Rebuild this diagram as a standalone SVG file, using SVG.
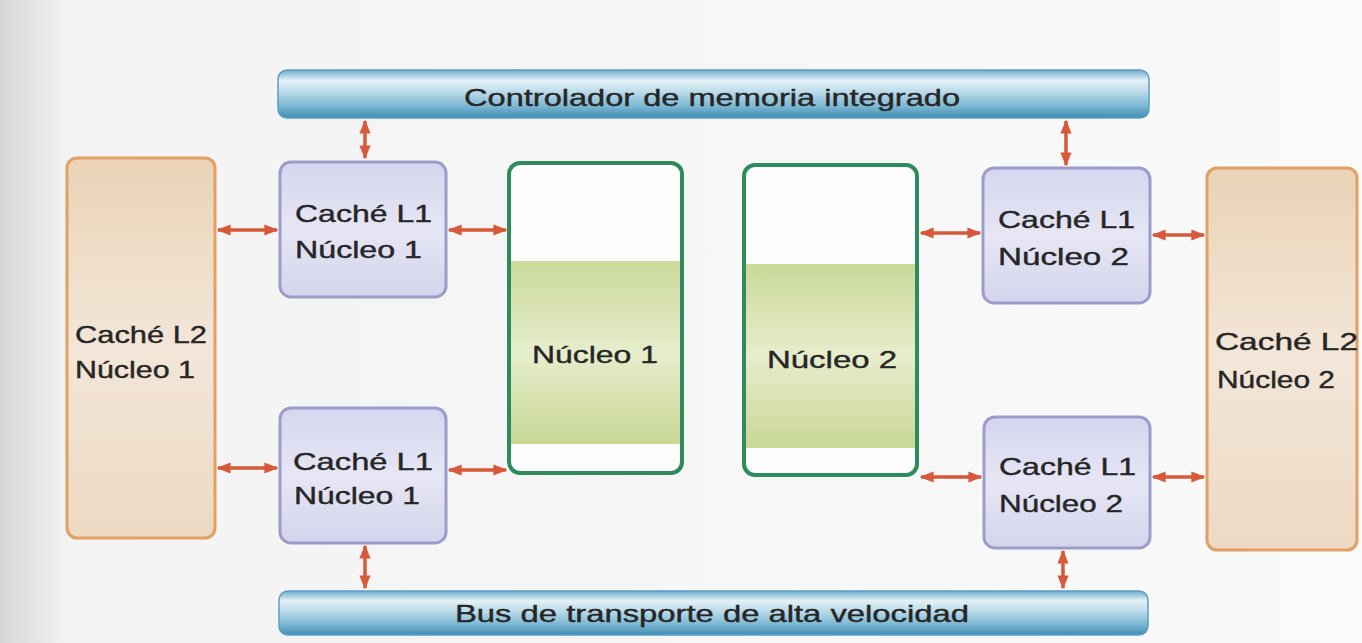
<svg xmlns="http://www.w3.org/2000/svg" width="1362" height="643" viewBox="0 0 1362 643">
<defs>
<linearGradient id="bg" x1="0" y1="0" x2="1" y2="0">
<stop offset="0" stop-color="#d6d6d6"/><stop offset="0.05" stop-color="#f3f3f3"/><stop offset="1" stop-color="#fafafa"/>
</linearGradient>
<linearGradient id="pipe" x1="0" y1="0" x2="0" y2="1">
<stop offset="0" stop-color="#6aaccb"/><stop offset="0.22" stop-color="#e4f1f6"/><stop offset="0.45" stop-color="#bcdcea"/><stop offset="0.75" stop-color="#7db8d3"/><stop offset="1" stop-color="#3f8db5"/>
</linearGradient>
<linearGradient id="l1" x1="0" y1="0" x2="0" y2="1">
<stop offset="0" stop-color="#d5d5ee"/><stop offset="0.5" stop-color="#e6e6f5"/><stop offset="1" stop-color="#d4d4ec"/>
</linearGradient>
<linearGradient id="l2" x1="0" y1="0" x2="0" y2="1">
<stop offset="0" stop-color="#ead3b6"/><stop offset="0.5" stop-color="#f3e6d8"/><stop offset="1" stop-color="#edd9c3"/>
</linearGradient>
<linearGradient id="band" x1="0" y1="0" x2="0" y2="1">
<stop offset="0" stop-color="#cbd99a"/><stop offset="0.5" stop-color="#e6edcc"/><stop offset="1" stop-color="#c9d796"/>
</linearGradient>
<marker id="ah" viewBox="0 0 10 10" refX="9" refY="5" markerWidth="4" markerHeight="4" orient="auto-start-reverse">
<path d="M0,1 L10,5 L0,9 z" fill="#d65a3a"/>
</marker>
<style>
.t{font-family:"Liberation Sans",Arial,sans-serif;font-size:24px;fill:#262626;stroke:#262626;stroke-width:0.4}
.pipe{fill:url(#pipe);stroke:#5a9fc2;stroke-width:1.5}
.l1{fill:url(#l1);stroke:#9c9cc9;stroke-width:3}
.l2{fill:url(#l2);stroke:#e2a062;stroke-width:3}
.core{fill:#fdfdfd;stroke:#2f8a5c;stroke-width:4}
.band{fill:url(#band)}
.c{stroke:#d65a3a;stroke-width:3.5;fill:none;marker-start:url(#ah);marker-end:url(#ah)}
</style>
</defs>
<rect x="0" y="0" width="1362" height="643" fill="url(#bg)"/>

<g id="bus-top">
<rect class="pipe" x="278" y="70" width="871" height="48" rx="9"/>
<text class="t" x="712" y="106" text-anchor="middle" textLength="496" lengthAdjust="spacingAndGlyphs">Controlador de memoria integrado</text>
</g>
<g id="bus-bottom">
<rect class="pipe" x="279" y="591" width="869" height="44" rx="9"/>
<text class="t" x="712" y="622" text-anchor="middle" textLength="514" lengthAdjust="spacingAndGlyphs">Bus de transporte de alta velocidad</text>
</g>

<g id="l2-core1">
<rect class="l2" x="67" y="158" width="148" height="380" rx="10"/>
<text class="t" x="75" y="343" textLength="132" lengthAdjust="spacingAndGlyphs">Caché L2</text>
<text class="t" x="75" y="378" textLength="120" lengthAdjust="spacingAndGlyphs">Núcleo 1</text>
</g>
<g id="l2-core2">
<rect class="l2" x="1207" y="168" width="150" height="382" rx="10"/>
<text class="t" x="1215" y="350" textLength="143" lengthAdjust="spacingAndGlyphs">Caché L2</text>
<text class="t" x="1217" y="388" textLength="118" lengthAdjust="spacingAndGlyphs">Núcleo 2</text>
</g>

<g id="l1-core1-top">
<rect class="l1" x="280" y="162" width="166" height="135" rx="11"/>
<text class="t" x="295" y="222" textLength="137" lengthAdjust="spacingAndGlyphs">Caché L1</text>
<text class="t" x="295" y="258" textLength="127" lengthAdjust="spacingAndGlyphs">Núcleo 1</text>
</g>
<g id="l1-core1-bottom">
<rect class="l1" x="280" y="408" width="166" height="135" rx="11"/>
<text class="t" x="293" y="470" textLength="140" lengthAdjust="spacingAndGlyphs">Caché L1</text>
<text class="t" x="294" y="504" font-size="21" textLength="126" lengthAdjust="spacingAndGlyphs">Núcleo 1</text>
</g>
<g id="l1-core2-top">
<rect class="l1" x="983" y="168" width="167" height="135" rx="11"/>
<text class="t" x="998" y="228" textLength="137" lengthAdjust="spacingAndGlyphs">Caché L1</text>
<text class="t" x="998" y="265" textLength="131" lengthAdjust="spacingAndGlyphs">Núcleo 2</text>
</g>
<g id="l1-core2-bottom">
<rect class="l1" x="984" y="417" width="166" height="131" rx="11"/>
<text class="t" x="999" y="475" textLength="137" lengthAdjust="spacingAndGlyphs">Caché L1</text>
<text class="t" x="999" y="512" font-size="22" textLength="124" lengthAdjust="spacingAndGlyphs">Núcleo 2</text>
</g>

<g id="core1">
<rect class="core" x="509" y="163" width="173" height="310" rx="11"/>
<rect class="band" x="511" y="261" width="169" height="183"/>
<text class="t" x="595" y="363" text-anchor="middle" textLength="126" lengthAdjust="spacingAndGlyphs">Núcleo 1</text>
</g>
<g id="core2">
<rect class="core" x="744" y="165" width="173" height="310" rx="11"/>
<rect class="band" x="746" y="264" width="169" height="184"/>
<text class="t" x="832" y="368" text-anchor="middle" textLength="130" lengthAdjust="spacingAndGlyphs">Núcleo 2</text>
</g>

<g id="connectors">
<line class="c" x1="365" y1="121" x2="365" y2="158"/>
<line class="c" x1="1066" y1="121" x2="1066" y2="165"/>
<line class="c" x1="365" y1="546" x2="365" y2="588"/>
<line class="c" x1="1063" y1="551" x2="1063" y2="588"/>
<line class="c" x1="218" y1="230" x2="277" y2="230"/>
<line class="c" x1="449" y1="230" x2="506" y2="230"/>
<line class="c" x1="218" y1="468" x2="277" y2="468"/>
<line class="c" x1="449" y1="470" x2="506" y2="470"/>
<line class="c" x1="921" y1="233" x2="980" y2="233"/>
<line class="c" x1="1153" y1="235" x2="1204" y2="235"/>
<line class="c" x1="921" y1="477" x2="981" y2="477"/>
<line class="c" x1="1153" y1="477" x2="1204" y2="477"/>
</g>
</svg>
